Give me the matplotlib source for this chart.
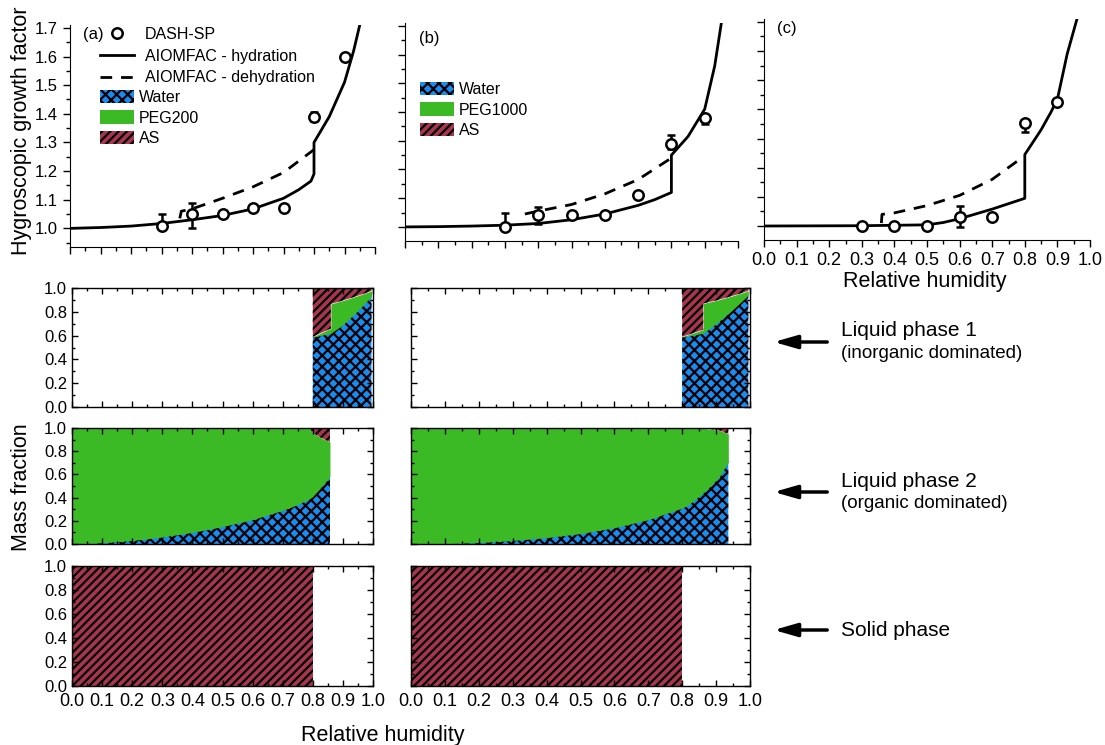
import numpy as np
import matplotlib
matplotlib.use('Agg')
from matplotlib import pyplot as plt
from matplotlib.lines import Line2D
from matplotlib.patches import Patch, FancyArrowPatch
from matplotlib.ticker import MultipleLocator

plt.rcParams['font.family'] = ['Liberation Sans', 'DejaVu Sans']
plt.rcParams['hatch.linewidth'] = 1.6
plt.rcParams['hatch.color'] = 'black'

# colours
c_water = '#1a8cf0'
c_peg = '#3cba25'
c_as = '#a8354f'
h_water = 'xxx'
h_as = '////'

# ---- growth factor panels (a) PEG200, (b) PEG1000, (c) third system ----
rh_pts = [0.3, 0.4, 0.5, 0.6, 0.7, 0.8, 0.9]

hyd_rh_a = [0.0, 0.1, 0.2, 0.3, 0.4, 0.5, 0.6, 0.7, 0.75, 0.79, 0.80, 0.80, 0.85, 0.9, 0.93, 0.95]
hyd_gf_a = [1.0, 1.003, 1.008, 1.017, 1.03, 1.045, 1.068, 1.105, 1.135, 1.165, 1.19, 1.30, 1.39, 1.51, 1.62, 1.71]
deh_rh_a = [0.36, 0.365, 0.4, 0.5, 0.6, 0.7, 0.8]
deh_gf_a = [1.035, 1.06, 1.068, 1.105, 1.145, 1.195, 1.275]
gf_a = [1.01, 1.05, 1.05, 1.07, 1.07, 1.39, 1.60]
lo_a = [0.0, 0.05, 0.0, 0.01, 0.0, 0.015, 0.0]
hi_a = [0.04, 0.04, 0.0, 0.01, 0.0, 0.015, 0.0]

hyd_rh_b = [0.0, 0.1, 0.2, 0.3, 0.4, 0.5, 0.6, 0.7, 0.75, 0.80, 0.80, 0.85, 0.9, 0.93, 0.95]
hyd_gf_b = [1.0, 1.001, 1.003, 1.006, 1.012, 1.025, 1.045, 1.075, 1.095, 1.12, 1.25, 1.315, 1.41, 1.56, 1.71]
deh_rh_b = [0.36, 0.4, 0.5, 0.6, 0.7, 0.8]
deh_gf_b = [1.045, 1.055, 1.078, 1.115, 1.165, 1.24]
gf_b = [1.0, 1.04, 1.04, 1.04, 1.11, 1.29, 1.38]
lo_b = [0.0, 0.03, 0.0, 0.0, 0.0, 0.02, 0.02]
hi_b = [0.05, 0.03, 0.0, 0.0, 0.0, 0.03, 0.01]

hyd_rh_c = [0.0, 0.3, 0.5, 0.55, 0.6, 0.7, 0.80, 0.80, 0.85, 0.88, 0.9, 0.93, 0.96]
hyd_gf_c = [1.0, 1.001, 1.004, 1.012, 1.025, 1.058, 1.095, 1.245, 1.33, 1.39, 1.435, 1.59, 1.71]
deh_rh_c = [0.36, 0.362, 0.4, 0.5, 0.6, 0.7, 0.78]
deh_gf_c = [1.01, 1.04, 1.045, 1.07, 1.105, 1.16, 1.225]
gf_c = [1.0, 1.0, 1.0, 1.03, 1.03, 1.355, 1.425]
lo_c = [0.0, 0.0, 0.0, 0.035, 0.0, 0.032, 0.0]
hi_c = [0.0, 0.0, 0.0, 0.04, 0.0, 0.01, 0.0]

# ---- mass fractions, left column (PEG200) ----
l1_rh_a = [0.80, 0.86, 0.86, 0.90, 0.95, 0.995]
l1_water_a = [0.586, 0.62, 0.62, 0.69, 0.81, 0.93]
l1_peg_a = [0.59, 0.66, 0.866, 0.895, 0.935, 0.975]   # water + PEG

l2_rh_a = [0.0, 0.1, 0.2, 0.3, 0.4, 0.5, 0.6, 0.7, 0.75, 0.79, 0.80, 0.824, 0.857]
l2_water_a = [0.0, 0.01, 0.03, 0.06, 0.10, 0.15, 0.21, 0.29, 0.34, 0.39, 0.41, 0.48, 0.58]
l2_peg_a = [1, 1, 1, 1, 1, 1, 1, 1, 1, 1.0, 0.96, 0.92, 0.88]

s_rh_a = [0.0, 0.8]
s_as_a = [1.0, 1.0]

# ---- mass fractions, middle column (PEG1000) ----
l1_rh_b = [0.80, 0.862, 0.862, 0.90, 0.95, 0.995]
l1_water_b = [0.586, 0.62, 0.62, 0.70, 0.82, 0.94]
l1_peg_b = [0.59, 0.65, 0.87, 0.895, 0.935, 0.975]

l2_rh_b = [0.0, 0.1, 0.2, 0.3, 0.4, 0.5, 0.6, 0.7, 0.8, 0.82, 0.87, 0.91, 0.936]
l2_water_b = [0.0, 0.003, 0.012, 0.03, 0.055, 0.09, 0.14, 0.21, 0.31, 0.34, 0.46, 0.58, 0.71]
l2_peg_b = [1, 1, 1, 1, 1, 1, 1, 1, 1, 1.0, 0.995, 0.98, 0.95]

s_rh_b = [0.0, 0.8]
s_as_b = [1.0, 1.0]

W, H = 1105, 745
fig = plt.figure(figsize=(W/100, H/100), dpi=100)

def rect(l, t, r, b):
    return [l/W, 1-b/H, (r-l)/W, (b-t)/H]

def top_panel(r, ylim, hyd, deh, pts, xlab, ylab):
    ax = fig.add_axes(r)
    ax.plot(hyd[0], hyd[1], color='k', lw=2.0, zorder=3)
    ax.plot(deh[0], deh[1], color='k', lw=2.0, ls=(0, (4.2, 3.2)), zorder=3)
    ax.errorbar(rh_pts, pts[0], yerr=[pts[1], pts[2]], fmt='o', ms=7.5, mfc='white',
                mec='k', mew=1.8, ecolor='k', elinewidth=1.8, capsize=3, capthick=1.8, zorder=4)
    ax.set_xlim(0, 1)
    ax.set_ylim(*ylim)
    ax.spines['top'].set_visible(False)
    ax.spines['right'].set_visible(False)
    ax.xaxis.set_major_locator(MultipleLocator(0.1))
    ax.xaxis.set_minor_locator(MultipleLocator(0.05))
    ax.yaxis.set_major_locator(MultipleLocator(0.1))
    ax.yaxis.set_minor_locator(MultipleLocator(0.05))
    ax.tick_params(which='major', direction='out', length=5, width=1)
    ax.tick_params(which='minor', direction='out', length=3, width=1)
    ax.tick_params(axis='x', labelsize=13, labelbottom=xlab)
    ax.tick_params(axis='y', labelsize=12, labelleft=ylab)
    ax.xaxis.set_major_formatter(lambda v, p: '%.1f' % v)
    ax.yaxis.set_major_formatter(lambda v, p: '%.1f' % v)
    return ax

ax_a = top_panel(rect(70, 25, 375, 247), (0.935, 1.71), (hyd_rh_a, hyd_gf_a), (deh_rh_a, deh_gf_a),
                 (gf_a, lo_a, hi_a), False, True)
ax_b = top_panel(rect(405, 23, 738, 241), (0.951, 1.71), (hyd_rh_b, hyd_gf_b), (deh_rh_b, deh_gf_b),
                 (gf_b, lo_b, hi_b), False, False)
ax_c = top_panel(rect(764, 19, 1090, 240), (0.952, 1.71), (hyd_rh_c, hyd_gf_c), (deh_rh_c, deh_gf_c),
                 (gf_c, lo_c, hi_c), True, False)

fig.text(83/W, 1-35/H, '(a)', fontsize=12, va='center', ha='left')
fig.text(419/W, 1-38/H, '(b)', fontsize=12, va='center', ha='left')
fig.text(777/W, 1-29/H, '(c)', fontsize=12, va='center', ha='left')

line_handles = [Line2D([], [], ls='none', marker='o', ms=7.5, mfc='white', mec='k', mew=1.8),
                Line2D([], [], color='k', lw=2.0),
                Line2D([], [], color='k', lw=2.0, ls=(0, (4.2, 3.2)))]
leg1 = ax_a.legend(line_handles, ['DASH-SP', 'AIOMFAC - hydration', 'AIOMFAC - dehydration'],
                   loc='upper left', bbox_to_anchor=(100/W, 1-27/H), bbox_transform=fig.transFigure,
                   frameon=False, fontsize=11.5, handlelength=2.1, handletextpad=0.7,
                   labelspacing=0.42, borderpad=0, borderaxespad=0)
ax_a.add_artist(leg1)

def phase_handles(peg_name):
    return [Patch(facecolor=c_water, edgecolor='black', hatch=h_water, lw=0),
            Patch(facecolor=c_peg, edgecolor=c_peg, lw=0),
            Patch(facecolor=c_as, edgecolor='black', hatch=h_as, lw=0)], ['Water', peg_name, 'AS']

h, l = phase_handles('PEG200')
ax_a.legend(h, l, loc='upper left', bbox_to_anchor=(100/W, 1-90/H), bbox_transform=fig.transFigure,
            frameon=False, fontsize=11.5, handlelength=2.1, handleheight=0.9, handletextpad=0.35,
            labelspacing=0.33, borderpad=0, borderaxespad=0)
h, l = phase_handles('PEG1000')
ax_b.legend(h, l, loc='upper left', bbox_to_anchor=(420/W, 1-82/H), bbox_transform=fig.transFigure,
            frameon=False, fontsize=11.5, handlelength=2.1, handleheight=0.9, handletextpad=0.35,
            labelspacing=0.33, borderpad=0, borderaxespad=0)

# ---- phase composition panels ----
def phase_panel(r, rh, water, peg, solid=False, xlab=False, ylab=False):
    ax = fig.add_axes(r)
    if solid:
        ax.fill_between(rh, 0, water, facecolor=c_as, edgecolor='black', hatch=h_as, lw=0)
    else:
        ax.fill_between(rh, 0, water, facecolor=c_water, edgecolor='black', hatch=h_water, lw=0)
        ax.fill_between(rh, water, peg, facecolor=c_peg, edgecolor=c_peg, lw=0)
        ax.fill_between(rh, peg, 1.0, facecolor=c_as, edgecolor='black', hatch=h_as, lw=0)
    ax.set_xlim(0, 1)
    ax.set_ylim(0, 1)
    ax.xaxis.set_major_locator(MultipleLocator(0.1))
    ax.xaxis.set_minor_locator(MultipleLocator(0.05))
    ax.yaxis.set_major_locator(MultipleLocator(0.2))
    ax.yaxis.set_minor_locator(MultipleLocator(0.1))
    ax.tick_params(which='both', direction='in', top=True, right=True, width=1)
    ax.tick_params(which='major', length=4)
    ax.tick_params(which='minor', length=2)
    ax.tick_params(axis='x', labelsize=13, labelbottom=xlab, pad=5)
    ax.tick_params(axis='y', labelsize=12, labelleft=ylab)
    ax.xaxis.set_major_formatter(lambda v, p: '%.1f' % v)
    ax.yaxis.set_major_formatter(lambda v, p: '%.1f' % v)
    for s in ax.spines.values():
        s.set_linewidth(1)
        s.set_zorder(5)
    return ax

rows = [(288, 407), (428, 544), (566, 686)]
cols = [(72, 373), (411, 750)]
phase_panel(rect(cols[0][0], rows[0][0], cols[0][1], rows[0][1]), l1_rh_a, l1_water_a, l1_peg_a, ylab=True)
phase_panel(rect(cols[0][0], rows[1][0], cols[0][1], rows[1][1]), l2_rh_a, l2_water_a, l2_peg_a, ylab=True)
phase_panel(rect(cols[0][0], rows[2][0], cols[0][1], rows[2][1]), s_rh_a, s_as_a, None, solid=True, xlab=True, ylab=True)
phase_panel(rect(cols[1][0], rows[0][0], cols[1][1], rows[0][1]), l1_rh_b, l1_water_b, l1_peg_b)
phase_panel(rect(cols[1][0], rows[1][0], cols[1][1], rows[1][1]), l2_rh_b, l2_water_b, l2_peg_b)
phase_panel(rect(cols[1][0], rows[2][0], cols[1][1], rows[2][1]), s_rh_b, s_as_b, None, solid=True, xlab=True)

# axis titles
fig.text(22/W, 1-131/H, 'Hygroscopic growth factor', rotation=90, fontsize=15.5, ha='center', va='center')
fig.text(22/W, 1-487/H, 'Mass fraction', rotation=90, fontsize=15.5, ha='center', va='center')
fig.text(925/W, 1-281/H, 'Relative humidity', fontsize=15.5, ha='center', va='center')
fig.text(383/W, 1-735/H, 'Relative humidity', fontsize=15.5, ha='center', va='center')

# phase annotations with arrows
for y, t1, t2 in [(342, 'Liquid phase 1', '(inorganic dominated)'),
                  (492, 'Liquid phase 2', '(organic dominated)'),
                  (630, 'Solid phase', None)]:
    arr = FancyArrowPatch((830/W, 1-y/H), (771/W, 1-y/H), transform=fig.transFigure,
                          arrowstyle='-|>,head_length=0.7,head_width=0.2', mutation_scale=20,
                          lw=2.5, color='k')
    fig.add_artist(arr)
    if t2 is None:
        fig.text(841/W, 1-y/H, t1, fontsize=15, ha='left', va='center')
    else:
        fig.text(841/W, 1-(y-11)/H, t1, fontsize=15, ha='left', va='center')
        fig.text(841/W, 1-(y+12)/H, t2, fontsize=13.5, ha='left', va='center')

fig.savefig('out.png', dpi=100)
